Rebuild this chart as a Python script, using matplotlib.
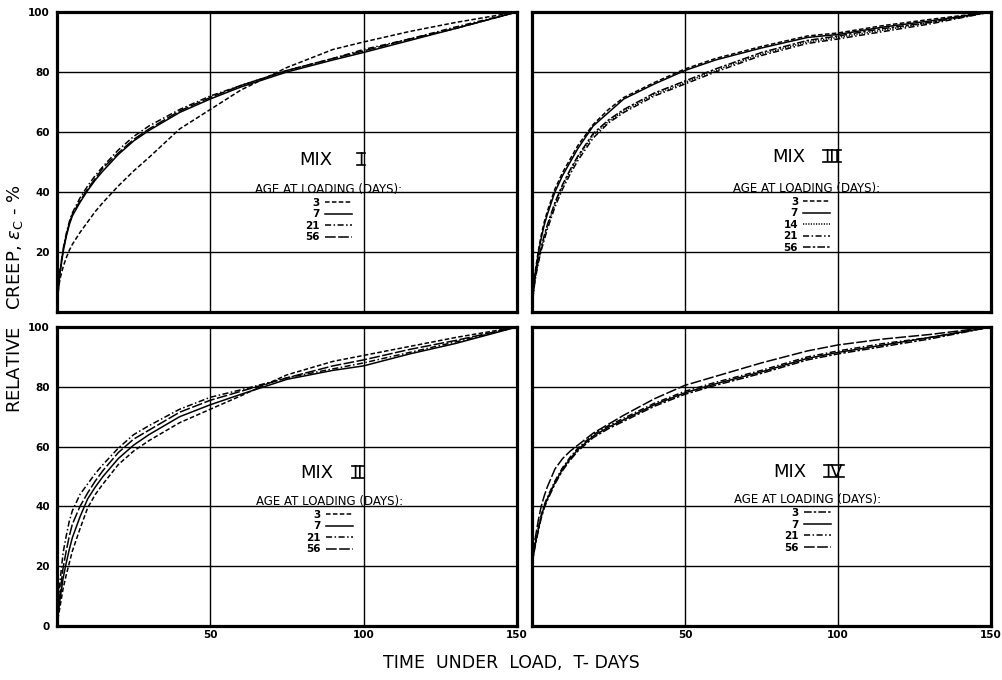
import matplotlib
matplotlib.use("Agg")
import matplotlib.pyplot as plt
from matplotlib.lines import Line2D

# time under load (days), common grid for all curves
T = [0, 0.5, 1, 2, 3, 4, 5, 7.5, 10, 12.5, 15, 20, 25, 30, 40, 50, 60, 75, 90, 100, 115, 130, 150]

# MIX I
mix1_3 = [0, 8, 11, 15, 18, 20.5, 22.5, 26.5, 30, 33.5, 36.5, 42, 47, 51.5, 61, 67.5, 74, 81.5, 87.5, 90, 93.5, 96.5, 100]
mix1_7 = [0, 8, 13, 20, 25, 29, 32, 36.5, 40.5, 44, 47, 52.5, 57, 60.5, 66.5, 71, 75, 80, 84, 86.5, 90.5, 94.5, 100]
mix1_21 = [0, 9, 14, 21, 26, 30, 33, 38, 42, 45.5, 48.5, 54, 58.5, 62, 67.5, 72, 75.5, 80.5, 84.5, 87.5, 91, 95, 100]
mix1_56 = [0, 8.5, 13.5, 20.5, 25.5, 29.5, 32.5, 37, 41, 44.5, 48, 53, 57.5, 61, 67, 71.5, 75.5, 80.5, 84.5, 87, 91, 94.5, 100]

# MIX III
mix3_3 = [0, 8.5, 13, 20, 25.5, 30, 33.5, 41, 46.5, 51, 55.5, 62.5, 67.5, 71.5, 76.5, 81, 84.5, 88.5, 92, 93, 95.5, 97.5, 100]
mix3_7 = [0, 8, 12.5, 19, 24.5, 29, 32.5, 40, 45.5, 50, 54.5, 62, 66.5, 71, 76, 80.5, 84, 88, 91.5, 92.5, 95, 97, 100]
mix3_14 = [0, 7, 11, 16.5, 21, 25, 28.5, 36, 42, 47, 51.5, 59, 63.5, 67, 72.5, 76.5, 80.5, 86, 90, 91.5, 94, 96.5, 100]
mix3_21 = [0, 6.5, 10.5, 16, 20.5, 24, 27.5, 35, 41, 46, 50.5, 58, 63, 66.5, 72, 76, 80, 85.5, 89.5, 91, 93.5, 96, 100]
mix3_56 = [0, 7, 11.5, 17, 21.5, 25.5, 29, 36.5, 42.5, 47.5, 52, 59.5, 64, 67.5, 73, 77, 81, 86.5, 90.5, 92, 94.5, 96.5, 100]

# MIX II
mix2_3 = [0, 3.5, 6.5, 12.5, 17, 21, 25, 32.5, 39.5, 44, 47.5, 54, 58.5, 62, 68, 72.5, 77, 84, 88.5, 90.5, 93.5, 96.5, 100]
mix2_7 = [0, 5, 9, 16, 21, 25.5, 29.5, 36.5, 42.5, 46.5, 50, 56, 60.5, 64, 70, 74, 77.5, 82.5, 85.5, 87, 91, 94.5, 100]
mix2_21 = [0, 9, 15, 24.5, 30, 35, 38.5, 44, 47.5, 51, 54, 59.5, 64, 67, 72.5, 76.5, 79, 83, 86, 88, 91.5, 95, 100]
mix2_56 = [0, 6, 11, 19.5, 25, 30, 34, 40, 44.5, 48.5, 52, 58, 62.5, 65.5, 71.5, 75.5, 78.5, 83, 87, 89, 92.5, 95.5, 100]

# MIX IV
mix4_3 = [20, 23.5, 26.5, 31.5, 36, 39.5, 42, 47.5, 52, 55.5, 58.5, 63, 66, 68.5, 73.5, 77.5, 80.5, 84.5, 89, 91, 93.5, 96, 100]
mix4_7 = [20, 24, 27, 32, 36.5, 40, 42.5, 48, 52.5, 56, 59, 63.5, 66.5, 69, 74, 78, 81, 85, 89.5, 91.5, 94, 96.5, 100]
mix4_21 = [20, 24.5, 27.5, 32.5, 37, 40.5, 43, 48.5, 53, 56.5, 59.5, 64, 67, 69.5, 74.5, 78.5, 81.5, 85.5, 90, 92, 94.5, 96.5, 100]
mix4_56 = [20, 25, 29, 35, 40, 43.5, 46.5, 52.5, 56, 58.5, 60.5, 64.5, 67.5, 70.5, 76, 80.5, 83.5, 88, 92, 94, 96, 97.5, 100]

# line styles
SHORT = (0, (3, 1.5))
SOLID = "-"
DASHDOT = (0, (4, 1.6, 1, 1.6))
LONG = (0, (7, 1.6))
DOTTED = (0, (0.8, 0.9))
LONGSHORT = (0, (5, 1.4, 1.6, 1.4))

panels = [
    # (axes rect, numeral, curves, MIX pos, legend anchor, y labels, x labels)
    ([0.0568, 0.5412, 0.4586, 0.4412], "I",
     [("3", mix1_3, SHORT), ("7", mix1_7, SOLID), ("21", mix1_21, DASHDOT), ("56", mix1_56, LONG)],
     (0.563, 0.661, 0.507), (0.591, 0.447), True, False),
    ([0.5304, 0.5412, 0.4576, 0.4412], "III",
     [("3", mix3_3, SHORT), ("7", mix3_7, SOLID), ("14", mix3_14, DOTTED),
      ("21", mix3_21, DASHDOT), ("56", mix3_56, LONGSHORT)],
     (0.560, 0.654, 0.517), (0.599, 0.450), False, False),
    ([0.0568, 0.0794, 0.4586, 0.4397], "II",
     [("3", mix2_3, SHORT), ("7", mix2_7, SOLID), ("21", mix2_21, DASHDOT), ("56", mix2_56, LONG)],
     (0.565, 0.654, 0.512), (0.593, 0.455), True, True),
    ([0.5304, 0.0794, 0.4576, 0.4397], "IV",
     [("3", mix4_3, LONGSHORT), ("7", mix4_7, SOLID), ("21", mix4_21, DASHDOT), ("56", mix4_56, LONG)],
     (0.562, 0.658, 0.515), (0.601, 0.461), False, True),
]

fig = plt.figure(figsize=(10.03, 6.8), dpi=100)
numerals = []

for rect, num, curves, mixpos, legpos, show_y, show_x in panels:
    ax = fig.add_axes(rect)
    ax.set_xlim(0, 150)
    ax.set_ylim(0, 100)
    for xv in [50, 100]:
        ax.axvline(xv, color="black", lw=1.0, zorder=1)
    for yv in [20, 40, 60, 80]:
        ax.axhline(yv, color="black", lw=1.0, zorder=1)
    for sp in ax.spines.values():
        sp.set_linewidth(2.3)

    handles = []
    for lab, vals, ls in curves:
        ln, = ax.plot(T, vals, color="black", lw=1.1, linestyle=ls, zorder=3)
        handles.append((ln, lab))

    ax.set_xticks([50, 100, 150])
    if show_x:
        ax.set_xticklabels(["50", "100", "150"])
    else:
        ax.set_xticklabels([])
    if show_y:
        if show_x:
            ax.set_yticks([0, 20, 40, 60, 80, 100])
        else:
            ax.set_yticks([20, 40, 60, 80, 100])
    else:
        ax.set_yticks([20, 40, 60, 80])
        ax.set_yticklabels([])
    ax.tick_params(length=0, labelsize=7.5, pad=3)
    ax.tick_params(axis="y", pad=5)
    for tl in ax.get_xticklabels() + ax.get_yticklabels():
        tl.set_fontweight("bold")

    ax.text(mixpos[0], mixpos[2], "MIX", transform=ax.transAxes, fontsize=13,
            ha="center", va="center")
    nt = ax.text(mixpos[1], mixpos[2], num, transform=ax.transAxes, fontsize=13,
                 ha="center", va="center")
    numerals.append(nt)

    ax.legend([h for h, _ in handles], [l for _, l in handles],
              title="AGE AT LOADING (DAYS):", loc="upper center",
              bbox_to_anchor=legpos, frameon=False, markerfirst=False,
              handlelength=2.6, handletextpad=0.5, labelspacing=0.15,
              borderpad=0, prop={"size": 7.5, "weight": "bold"},
              title_fontsize=8.5)

fig.text(0.015, 0.56, r"RELATIVE   CREEP, $\varepsilon_{\rm C}$ - %", rotation=90,
         fontsize=13, ha="center", va="center")
fig.text(0.51, 0.025, "TIME  UNDER  LOAD,  T- DAYS", fontsize=12.5,
         ha="center", va="center")

# bars above and below the roman numerals
fig.canvas.draw()
r = fig.canvas.get_renderer()
inv = fig.transFigure.inverted()
for nt in numerals:
    bb = nt.get_window_extent(r)
    h = bb.height
    x0, x1 = bb.x0 - 1, bb.x1 + 1
    ytop = bb.y1 - 0.12 * h
    ybot = bb.y0 + 0.2 * h
    for yy in (ytop, ybot):
        (fx0, fy), (fx1, _) = inv.transform([(x0, yy), (x1, yy)])
        fig.add_artist(Line2D([fx0, fx1], [fy, fy], color="black", lw=1.2,
                              transform=fig.transFigure))

fig.savefig("out.png", dpi=100)
